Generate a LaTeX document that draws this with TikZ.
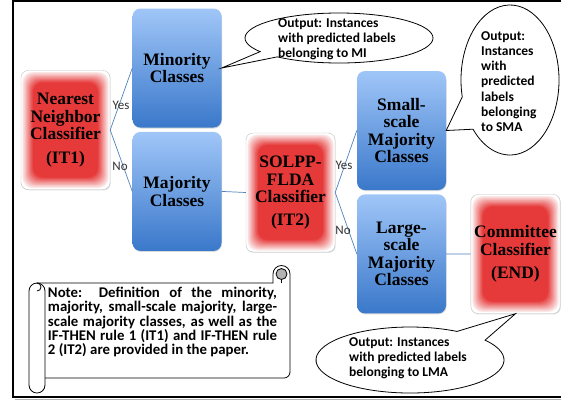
\documentclass[tikz,border=0pt]{standalone}
\usepackage{fontspec}
\setmainfont{Liberation Serif}
\newfontfamily\calibri{Carlito}
\usetikzlibrary{positioning, shadows}
\definecolor{glowred}{RGB}{230,58,58}
\definecolor{boxtop}{RGB}{160,198,248}
\definecolor{boxbot}{RGB}{58,120,202}
\definecolor{linkblue}{RGB}{79,129,189}
\tikzset{
  node distance=4bp and 20bp,
  cls/.style={
      rectangle,
      rounded corners=7bp,
      draw=black!25,
      fill=white,
      minimum width=89bp,
      minimum height=119bp,
      align=center,
      font=\bfseries\fontsize{17.5bp}{17.5bp}\selectfont,
      drop shadow={opacity=0.25, shadow xshift=0.6bp, shadow yshift=-0.9bp},
      path picture={
          \foreach \k [evaluate=\k as \pct using int(10+\k*6)] in {0,...,15}
            \fill[glowred!\pct!white, rounded corners=10bp]
              ([shift={(1.5bp+\k*0.7bp,-1.5bp-\k*0.7bp)}]path picture bounding box.north west)
              rectangle
              ([shift={(-1.5bp-\k*0.7bp,1.5bp+\k*0.7bp)}]path picture bounding box.south east);
        }
    },
  grp/.style={
      rectangle,
      rounded corners=8bp,
      top color=boxtop,
      bottom color=boxbot,
      minimum width=89bp,
      minimum height=119bp,
      align=center,
      font=\bfseries\fontsize{17.5bp}{17.5bp}\selectfont,
      drop shadow={opacity=0.3, shadow xshift=0.5bp, shadow yshift=-1bp}
    },
  bubble/.style={
      draw,
      fill=white,
      line width=0.8bp
    },
  talk/.style={
      anchor=west,
      align=left,
      inner sep=0pt,
      font=\calibri\bfseries\fontsize{13.5bp}{15.2bp}\selectfont
    },
  memo/.style={
      text width=229bp,
      align=justify,
      inner sep=0pt,
      font=\calibri\bfseries\fontsize{14.8bp}{14.3bp}\selectfont
    },
  lab/.style={
      inner sep=0pt,
      text=black!80,
      font=\calibri\fontsize{13bp}{13bp}\selectfont
    },
  lnk/.style={
      draw=linkblue,
      line width=0.7bp
    }
}

\begin{document}
\begin{tikzpicture}[x=1bp, y=-1bp]
  \useasboundingbox (0,0) rectangle (561,403);
  \draw[black!30, line width=1.5bp] (15,399.5) -- (575,399.5);
  \draw[line width=1.2bp] (575,1) -- (13,1) -- (13,397) -- (575,397);

  \node[cls] (nn) at (65.5,130) {Nearest\\Neighbor\\Classifier\\[6bp](IT1)};
  \node[grp] (mino) at (177,68) {Minority\\Classes};
  \node[grp, below=of mino] (majo) {Majority\\Classes};
  \node[cls] (solpp) at (290.5,192.5) {SOLPP-\\FLDA\\Classifier\\[5bp](IT2)};
  \node[grp] (small) at (401.5,130.5) {Small-\\scale\\Majority\\Classes};
  \node[grp, below=of small] (large) {Large-\\scale\\Majority\\Classes};
  \node[cls] (comm) at (515.5,254) {Committee\\Classifier\\[6bp](END)};

  \draw[lnk] (nn.east) -- (mino.west);
  \draw[lnk] (nn.east) -- (majo.west);
  \draw[lnk] (majo.east) -- (solpp.west);
  \draw[lnk] (solpp.east) -- (small.west);
  \draw[lnk] (solpp.east) -- (large.west);
  \draw[lnk] (large.east) -- (comm.west);
  \node[lab] (yes1) at (121,105) {Yes};
  \node[lab] (no1) at (120,166) {No};
  \node[lab] (yes2) at (344,165) {Yes};
  \node[lab] (no2) at (343,230) {No};

  \draw[bubble] (339,38) ++(147:94 and 25) arc[start angle=147, end angle=491, x radius=94, y radius=25] -- (mino.east) -- cycle;
  \node[talk] (outmi) at (278,39) {Output: Instances\\with predicted labels\\belonging to MI};
  \draw[bubble] (510,80) ++(167:49 and 75) arc[start angle=167, end angle=499, x radius=49, y radius=75] -- (small.east) -- cycle;
  \node[talk] (outsma) at (481,81.5) {Output:\\Instances\\with\\predicted\\labels\\belonging\\to SMA};
  \draw[bubble] (410,360) ++(323:94 and 33) arc[start angle=323, end angle=660, x radius=94, y radius=33] -- (comm.south) -- cycle;
  \node[talk] (outlma) at (349,358) {Output: Instances\\with predicted labels\\belonging to LMA};

  \draw[fill=white, line width=0.8bp] (37,283) -- (273,283) -- (273,274) arc[start angle=180, end angle=360, radius=8.5] -- (290,372) arc[start angle=0, end angle=90, radius=6] -- (37,378) -- cycle;
  \draw[fill=black!30, line width=0.8bp] (281.5,274) circle[radius=5.5];
  \draw[line width=0.8bp] (281.5,279.5) -- (281.5,283);
  \draw[fill=white, line width=0.8bp] (29,291) -- (29,385) arc[start angle=180, end angle=0, radius=8] -- (45,291) arc[start angle=0, end angle=-180, radius=8] -- cycle;
  \draw[line width=0.8bp] (37,283) arc[start angle=-90, end angle=90, radius=4];
  \node[memo] (note) at (162.5,322) {\noindent Note: Definition of the minority,\linebreak majority, small-scale majority, large-\linebreak scale majority classes, as well as the\linebreak IF-THEN rule 1 (IT1) and IF-THEN rule\linebreak 2 (IT2) are provided in the paper.};
\end{tikzpicture}
\end{document}
